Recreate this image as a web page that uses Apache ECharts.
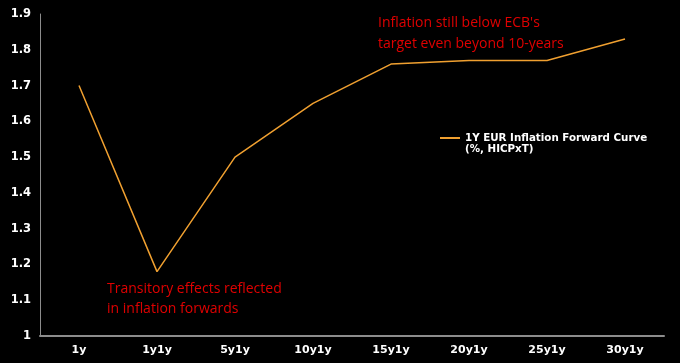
<!DOCTYPE html>
<html><head><meta charset="utf-8">
<script src="https://cdn.jsdelivr.net/npm/echarts@6/dist/echarts.min.js"></script>
<style>html,body{margin:0;padding:0;background:#000}#c{width:680px;height:363px}</style>
</head><body><div id="c"></div>
<script>
const categories = ['1y','1y1y','5y1y','10y1y','15y1y','20y1y','25y1y','30y1y'];
const forwardValues = [1.70, 1.18, 1.50, 1.65, 1.76, 1.77, 1.77, 1.83];
const seriesName = '1Y EUR Inflation Forward Curve';
const chart = echarts.init(document.getElementById('c'));
chart.setOption({
  backgroundColor: '#000000',
  animation: false,
  grid: {left: 40, right: 16, top: 14, bottom: 27},
  legend: {
    left: 435, top: 128, itemWidth: 20, itemHeight: 8, itemGap: 5,
    data: [{name: seriesName, icon: 'path://M0,0 L20,0 L20,2 L0,2 Z'}],
    textStyle: {color: '#ffffff', fontFamily: 'DejaVu Sans', fontWeight: 'bold', fontSize: 10.3}
  },
  xAxis: {
    type: 'category', data: categories, boundaryGap: true,
    axisLine: {lineStyle: {color: '#8c8c8c', width: 2}},
    axisTick: {show: false},
    axisLabel: {color: '#ffffff', fontFamily: 'DejaVu Sans', fontWeight: 'bold', fontSize: 11, margin: 9}
  },
  yAxis: {
    type: 'value', min: 1, max: 1.9, interval: 0.1,
    axisLine: {show: true, lineStyle: {color: '#8c8c8c', width: 1}},
    axisTick: {show: false},
    splitLine: {show: false},
    axisLabel: {color: '#ffffff', fontFamily: 'DejaVu Sans', fontWeight: 'bold', fontSize: 11.5, margin: 9,
      formatter: v => (Math.round(v*10)/10).toString()}
  },
  series: [{
    name: seriesName, type: 'line', data: forwardValues, symbol: 'none',
    lineStyle: {color: '#f0a030', width: 1.5}, itemStyle: {color: '#f0a030'}
  }],
  graphic: [
    {type: 'text', left: 465, top: 144, style: {text: '(%, HICPxT)', fill: '#ffffff', font: 'bold 10.3px "DejaVu Sans"'}},
    {type: 'text', left: 378, top: 13, style: {text: "Inflation still below ECB's\ntarget even beyond 10-years", fill: '#e00000', font: '14px "Open Sans"', lineHeight: 21}},
    {type: 'text', left: 107, top: 279, style: {text: 'Transitory effects reflected\nin inflation forwards', fill: '#e00000', font: '14px "Open Sans"', lineHeight: 20}}
  ]
});
</script></body></html>
